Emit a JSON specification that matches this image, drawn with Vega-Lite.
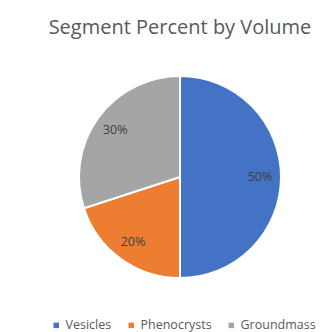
{
  "$schema": "https://vega.github.io/schema/vega-lite/v6.json",
  "autosize": "none",
  "width": 200,
  "height": 200,
  "padding": {"left": 80, "top": 77, "right": 43, "bottom": 55},
  "background": "white",
  "title": {
    "text": "Segment Percent by Volume",
    "font": "Open Sans",
    "fontSize": 20,
    "fontWeight": "normal",
    "color": "#595959",
    "anchor": "middle",
    "offset": 34
  },
  "data": {
    "values": [
      {"segment": "Vesicles", "percent": 50, "label": "50%", "order": 1},
      {"segment": "Phenocrysts", "percent": 20, "label": "20%", "order": 2},
      {"segment": "Groundmass", "percent": 30, "label": "30%", "order": 3}
    ]
  },
  "encoding": {
    "theta": {"field": "percent", "type": "quantitative", "stack": true},
    "order": {"field": "order", "type": "quantitative"}
  },
  "layer": [
    {
      "mark": {"type": "arc", "outerRadius": 101, "stroke": "white", "strokeWidth": 2},
      "encoding": {
        "color": {
          "field": "segment",
          "type": "nominal",
          "scale": {
            "domain": ["Vesicles", "Phenocrysts", "Groundmass"],
            "range": ["#4472C4", "#ED7D31", "#A5A5A5"]
          },
          "legend": {
            "title": null,
            "orient": "none",
            "direction": "horizontal",
            "legendX": -30,
            "legendY": 242,
            "padding": 0,
            "symbolType": "square",
            "symbolSize": 30,
            "symbolStrokeWidth": 0,
            "labelFont": "Open Sans",
            "labelFontSize": 12.5,
            "labelColor": "#595959",
            "columnPadding": 13,
            "symbolOffset": 0,
            "labelOffset": 3
          }
        }
      }
    },
    {
      "mark": {"type": "text", "radius": 80, "font": "Open Sans", "fontSize": 12.5, "color": "#404040"},
      "encoding": {
        "text": {"field": "label", "type": "nominal"}
      }
    }
  ]
}
